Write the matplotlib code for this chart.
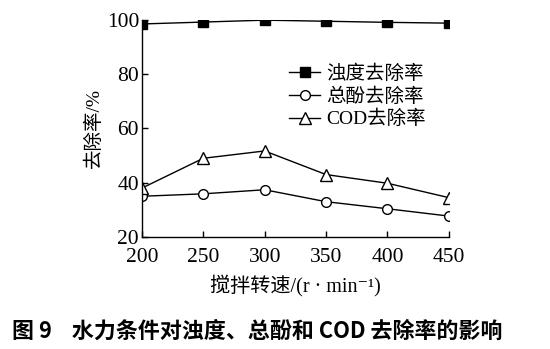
import matplotlib
matplotlib.use("Agg")
import matplotlib.pyplot as plt

plt.rcParams['font.family'] = ['Liberation Serif', 'Noto Sans CJK SC', 'DejaVu Sans']

speed = [200, 250, 300, 350, 400, 450]
turbidity = [98.5, 99.2, 99.9, 99.5, 99.1, 98.8]
phenol = [35.0, 35.9, 37.4, 33.0, 30.4, 27.7]
cod = [38.0, 49.0, 51.7, 43.0, 39.8, 34.5]
series_names = ['浊度去除率', '总酚去除率', 'COD去除率']
xticks = [200, 250, 300, 350, 400, 450]
yticks = [20, 40, 60, 80, 100]

fig = plt.figure(figsize=(5.5, 3.49), dpi=100)
ax = fig.add_axes([0.258, 0.321, 0.558, 0.622])

ax.plot(speed, turbidity, '-', color='black', lw=1, marker='s', ms=6.5,
        mfc='black', mec='black', label=series_names[0])
ax.plot(speed, phenol, '-', color='black', lw=1, marker='o', ms=7,
        mfc='white', mec='black', mew=1, label=series_names[1])
ax.plot(speed, cod, '-', color='black', lw=1, marker='^', ms=8,
        mfc='white', mec='black', mew=1, label=series_names[2])

ax.set_xlim(200, 450)
ax.set_ylim(20, 100)
ax.set_xticks(xticks)
ax.set_yticks(yticks)
for s in ['top', 'right']:
    ax.spines[s].set_visible(False)
for s in ['left', 'bottom']:
    ax.spines[s].set_linewidth(1)
ax.tick_params(direction='in', length=4, width=1, labelsize=15.5, pad=2)
ax.tick_params(axis='x', pad=8)
for lab in ax.get_xticklabels() + ax.get_yticklabels():
    lab.set_clip_on(False)

ax.set_ylabel('去除率/%', fontsize=14, labelpad=3)
ax.set_xlabel('搅拌转速/(r · min⁻¹)', fontsize=14.5, labelpad=5)

leg = ax.legend(loc='upper left', bbox_to_anchor=(0.455, 0.83), frameon=False,
                fontsize=14, handlelength=1.6, handletextpad=0.3,
                labelspacing=0.22, borderaxespad=0)

fig.text(0.468, 0.05, '图 9    水力条件对浊度、总酚和 COD 去除率的影响',
         ha='center', va='center', fontsize=15.8, fontweight='bold',
         family=['Noto Sans CJK SC', 'Liberation Serif'])

fig.savefig('out.png', dpi=100)
